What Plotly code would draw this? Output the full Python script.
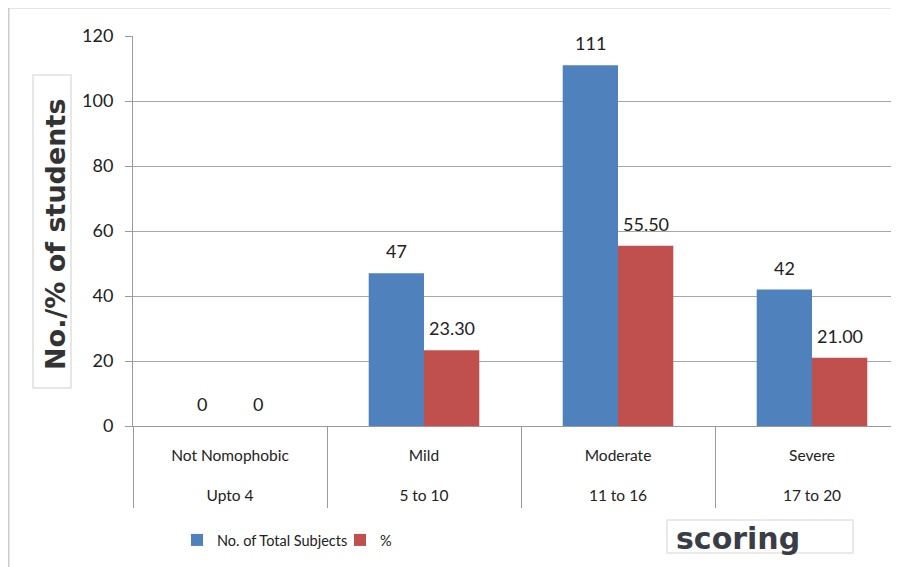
import plotly.graph_objects as go

severity = ["Not Nomophobic", "Mild", "Moderate", "Severe"]
score_ranges = ["Upto 4", "5 to 10", "11 to 16", "17 to 20"]
total_subjects = [0, 47, 111, 42]
percent = [0, 23.30, 55.50, 21.00]
y_ticks = [0, 20, 40, 60, 80, 100, 120]

BLUE = "#4F81BD"
RED = "#C0504D"
GRID = "#a6a6a6"
AXIS = "#9a9a9a"
FONT = "Lato, sans-serif"

OFF = 8  # page offset of the figure inside the window
W, H = 899 - OFF, 567 - OFF
ML, MR, MT, MB = 133 - OFF, 0, 36 - OFF, 567 - 426
PW = W - ML - MR
PH = H - MT - MB
CAT_PX = 194.0

def px_x(p):
    return (p - OFF - ML) / PW

def px_y(p):
    return (H - MB - (p - OFF)) / PH

categories = [f"{a}<br><br>{b}" for a, b in zip(severity, score_ranges)]
bargap = 0.43
half = (1 - bargap) / 4

fig = go.Figure()
fig.add_trace(go.Bar(x=categories, y=total_subjects, name="No. of Total Subjects",
                     marker=dict(color=BLUE, line=dict(width=0))))
fig.add_trace(go.Bar(x=categories, y=percent, name="%",
                     marker=dict(color=RED, line=dict(width=0))))

annotations = []
for i, v in enumerate(total_subjects):
    annotations.append(dict(x=i - half, y=v, xref="x", yref="y", text=f"{v}",
                            showarrow=False, yanchor="bottom", yshift=9,
                            font=dict(family=FONT, size=18, color="#222")))
for i, v in enumerate(percent):
    annotations.append(dict(x=i + half, y=v, xref="x", yref="y",
                            text=(f"{v:.2f}" if v else "0"),
                            showarrow=False, yanchor="bottom", yshift=9,
                            font=dict(family=FONT, size=18, color="#222")))

annotations.append(dict(x=px_x(55), y=px_y(235), xref="paper", yref="paper",
                        text="<b>No./% of students</b>", textangle=-90, showarrow=False,
                        font=dict(family="DejaVu Sans", size=27, color="#333"),
                        xanchor="center", yanchor="middle"))
annotations.append(dict(x=px_x(674), y=px_y(538), xref="paper", yref="paper",
                        text="<b>scoring</b>", showarrow=False,
                        font=dict(family="DejaVu Sans", size=30, color="#3a3d45"),
                        xanchor="left", yanchor="middle"))

shapes = [
    dict(type="rect", xref="paper", yref="paper", x0=px_x(8.5), x1=1.05, y0=-0.5, y1=px_y(7.5),
         line=dict(color="#cccccc", width=2), layer="below"),
    dict(type="rect", xref="paper", yref="paper", x0=px_x(33), x1=px_x(71),
         y0=px_y(388), y1=px_y(75), line=dict(color="#e0e0e0", width=1.5)),
    dict(type="rect", xref="paper", yref="paper", x0=px_x(667), x1=px_x(853),
         y0=px_y(553), y1=px_y(520), line=dict(color="#e3e3e3", width=1.5)),
]

fig.update_layout(
    width=W, height=H,
    margin=dict(l=ML, r=MR, t=MT, b=MB),
    paper_bgcolor="white", plot_bgcolor="white",
    barmode="group", bargap=bargap, bargroupgap=0,
    annotations=annotations, shapes=shapes,
    showlegend=True,
    legend=dict(orientation="h", x=px_x(177), y=px_y(540), xanchor="left", yanchor="middle",
                font=dict(family=FONT, size=14.5, color="#222"),
                bgcolor="rgba(0,0,0,0)", entrywidth=118, entrywidthmode="pixels"),
    font=dict(family=FONT, color="#222"),
)
fig.update_xaxes(
    type="category", range=[-0.5, -0.5 + PW / CAT_PX],
    showgrid=False, showline=True, linecolor=AXIS, linewidth=1,
    ticks="outside", tickson="boundaries", ticklen=81, tickcolor=AXIS, tickwidth=1,
    ticklabelstandoff=15,
    tickfont=dict(family=FONT, size=15.5, color="#222"),
)
fig.update_yaxes(
    range=[0, 120], tickvals=y_ticks,
    showgrid=True, gridcolor=GRID, gridwidth=1,
    showline=True, linecolor=AXIS, linewidth=1,
    ticks="outside", ticklen=7, tickcolor=AXIS,
    ticklabelstandoff=8,
    tickfont=dict(family=FONT, size=18, color="#222"),
    zeroline=False,
)

fig.write_html("out.html")
